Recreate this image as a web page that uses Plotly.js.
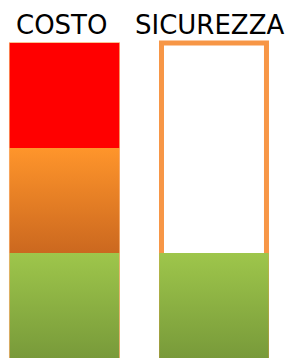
<!DOCTYPE html>
<html>
<head>
<meta charset="utf-8">
<script src="https://cdn.plot.ly/plotly-3.0.1.min.js"></script>
<style>html,body{margin:0;padding:0;background:#fff;}#chart{width:291px;height:358px;}</style>
</head>
<body>
<div id="chart"></div>
<script>
// ---- data ----
const categories = ["COSTO", "SICUREZZA"];
const greenValues = [1, 1];
const orangeValues = [1, 0];
const redValues = [1, 0];
const outlineValues = [3, 3];

// ---- styles ----
const halfW = 0.366;
const outlineHalfW = [0.366, 0.351];
const outlineColor = ["#F9AE70", "#F79646"];
const outlineWidth = [1.5, 5];

function rect(xc, hw, y0, y1) {
  return { x: [xc - hw, xc + hw, xc + hw, xc - hw, xc - hw], y: [y0, y0, y1, y1, y0] };
}

const traces = [];
categories.forEach((c, i) => {
  const r = rect(i, outlineHalfW[i], 0, outlineValues[i]);
  traces.push({ type: "scatter", mode: "lines", x: r.x, y: r.y, fill: "toself",
    fillcolor: "#ffffff", line: { color: outlineColor[i], width: outlineWidth[i] },
    hoverinfo: "skip", showlegend: false });
});
categories.forEach((c, i) => {
  let base = 0;
  const segs = [
    { v: greenValues[i], grad: [[0, "#789A3A"], [1, "#9EC64B"]] },
    { v: orangeValues[i], grad: [[0, "#CB681F"], [1, "#FF952B"]] },
    { v: redValues[i], grad: [[0, "#FF0000"], [1, "#FF0000"]] }
  ];
  segs.forEach(s => {
    if (s.v > 0) {
      const r = rect(i, halfW, base, base + s.v);
      traces.push({ type: "scatter", mode: "none", x: r.x, y: r.y, fill: "toself",
        fillgradient: { type: "vertical", colorscale: s.grad },
        hoverinfo: "skip", showlegend: false });
      base += s.v;
    }
  });
});

const layout = {
  width: 291, height: 358,
  margin: { l: 0, r: 0, t: 38, b: 0 },
  paper_bgcolor: "#ffffff", plot_bgcolor: "#ffffff",
  xaxis: { range: [-0.431, 1.515], showgrid: false, zeroline: false, showticklabels: false, showline: false, fixedrange: true },
  yaxis: { range: [0, 3.0476], showgrid: false, zeroline: false, showticklabels: false, showline: false, fixedrange: true },
  annotations: categories.map((c, i) => ({
    text: c, x: i === 0 ? -0.017 : 0.97, xref: "x", y: 1.04, yref: "paper",
    xanchor: "center", yanchor: "middle", showarrow: false,
    font: { family: "DejaVu Sans, sans-serif", size: 26, color: "#000000" }
  }))
};

Plotly.newPlot("chart", traces, layout, { staticPlot: true, displayModeBar: false });
</script>
</body>
</html>
